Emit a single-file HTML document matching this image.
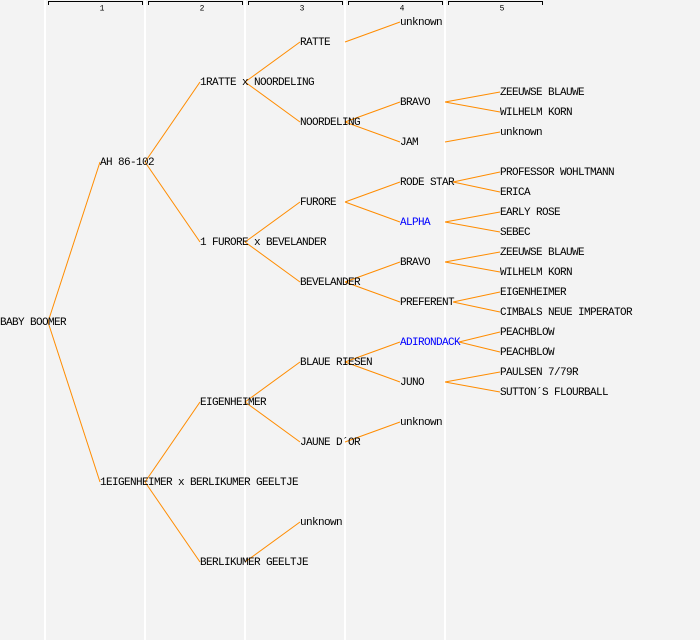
<!DOCTYPE html>
<html><head><style>
html,body{margin:0;padding:0;background:#f3f3f3;}
svg{display:block}
text{font-family:"Liberation Mono","DejaVu Sans Mono",monospace;font-size:11px;letter-spacing:-0.6px;fill:#000;dominant-baseline:central}
</style></head><body>
<svg width="700" height="640" viewBox="0 0 700 640" xmlns="http://www.w3.org/2000/svg">
<rect width="700" height="640" fill="#f3f3f3"/>
<g fill="#ffffff">
<rect x="44" y="0" width="2" height="640"/><rect x="144" y="0" width="2" height="640"/>
<rect x="244" y="0" width="2" height="640"/><rect x="344" y="0" width="2" height="640"/>
<rect x="444" y="0" width="2" height="640"/>
</g>
<g stroke="#000" stroke-width="1" fill="none">
<path d="M48.5,5V1.5H142.5V5"/><path d="M148.5,5V1.5H242.5V5"/><path d="M248.5,5V1.5H342.5V5"/>
<path d="M348.5,5V1.5H442.5V5"/><path d="M448.5,5V1.5H542.5V5"/>
</g>
<g text-anchor="middle">
<text x="102" y="9" style="font-size:8px;letter-spacing:0">1</text><text x="202" y="9" style="font-size:8px;letter-spacing:0">2</text><text x="302" y="9" style="font-size:8px;letter-spacing:0">3</text><text x="402" y="9" style="font-size:8px;letter-spacing:0">4</text><text x="502" y="9" style="font-size:8px;letter-spacing:0">5</text>
</g>
<g stroke="#ff8c00" stroke-width="1" fill="none">
<line x1="48" y1="322" x2="100" y2="162"/><line x1="48" y1="322" x2="100" y2="482"/>
<line x1="145" y1="162" x2="200" y2="82"/><line x1="145" y1="162" x2="200" y2="242"/>
<line x1="145" y1="482" x2="200" y2="402"/><line x1="145" y1="482" x2="200" y2="562"/>
<line x1="245" y1="82" x2="300" y2="42"/><line x1="245" y1="82" x2="300" y2="122"/>
<line x1="245" y1="242" x2="300" y2="202"/><line x1="245" y1="242" x2="300" y2="282"/>
<line x1="245" y1="402" x2="300" y2="362"/><line x1="245" y1="402" x2="300" y2="442"/>
<line x1="245" y1="562" x2="300" y2="522"/>
<line x1="345" y1="42" x2="400" y2="22"/>
<line x1="345" y1="122" x2="400" y2="102"/><line x1="345" y1="122" x2="400" y2="142"/>
<line x1="345" y1="202" x2="400" y2="182"/><line x1="345" y1="202" x2="400" y2="222"/>
<line x1="345" y1="282" x2="400" y2="262"/><line x1="345" y1="282" x2="400" y2="302"/>
<line x1="345" y1="362" x2="400" y2="342"/><line x1="345" y1="362" x2="400" y2="382"/>
<line x1="345" y1="442" x2="400" y2="422"/>
<line x1="445" y1="102" x2="500" y2="92"/><line x1="445" y1="102" x2="500" y2="112"/>
<line x1="445" y1="142" x2="500" y2="132"/>
<line x1="453" y1="182" x2="500" y2="172"/><line x1="453" y1="182" x2="500" y2="192"/>
<line x1="445" y1="222" x2="500" y2="212"/><line x1="445" y1="222" x2="500" y2="232"/>
<line x1="445" y1="262" x2="500" y2="252"/><line x1="445" y1="262" x2="500" y2="272"/>
<line x1="453" y1="302" x2="500" y2="292"/><line x1="453" y1="302" x2="500" y2="312"/>
<line x1="459" y1="342" x2="500" y2="332"/><line x1="459" y1="342" x2="500" y2="352"/>
<line x1="445" y1="382" x2="500" y2="372"/><line x1="445" y1="382" x2="500" y2="392"/>
</g>
<g>
<text x="0" y="323">BABY BOOMER</text>
<text x="100" y="163">AH 86-102</text>
<text x="100" y="483">1EIGENHEIMER x BERLIKUMER GEELTJE</text>
<text x="200" y="83">1RATTE x NOORDELING</text>
<text x="200" y="243">1 FURORE x BEVELANDER</text>
<text x="200" y="403">EIGENHEIMER</text>
<text x="200" y="563">BERLIKUMER GEELTJE</text>
<text x="300" y="43">RATTE</text>
<text x="300" y="123">NOORDELING</text>
<text x="300" y="203">FURORE</text>
<text x="300" y="283">BEVELANDER</text>
<text x="300" y="363">BLAUE RIESEN</text>
<text x="300" y="443">JAUNE D´OR</text>
<text x="300" y="523">unknown</text>
<text x="400" y="23">unknown</text>
<text x="400" y="103">BRAVO</text>
<text x="400" y="143">JAM</text>
<text x="400" y="183">RODE STAR</text>
<text x="400" y="223" style="fill:#0000ff">ALPHA</text>
<text x="400" y="263">BRAVO</text>
<text x="400" y="303">PREFERENT</text>
<text x="400" y="343" style="fill:#0000ff">ADIRONDACK</text>
<text x="400" y="383">JUNO</text>
<text x="400" y="423">unknown</text>
<text x="500" y="93">ZEEUWSE BLAUWE</text>
<text x="500" y="113">WILHELM KORN</text>
<text x="500" y="133">unknown</text>
<text x="500" y="173">PROFESSOR WOHLTMANN</text>
<text x="500" y="193">ERICA</text>
<text x="500" y="213">EARLY ROSE</text>
<text x="500" y="233">SEBEC</text>
<text x="500" y="253">ZEEUWSE BLAUWE</text>
<text x="500" y="273">WILHELM KORN</text>
<text x="500" y="293">EIGENHEIMER</text>
<text x="500" y="313">CIMBALS NEUE IMPERATOR</text>
<text x="500" y="333">PEACHBLOW</text>
<text x="500" y="353">PEACHBLOW</text>
<text x="500" y="373">PAULSEN 7/79R</text>
<text x="500" y="393">SUTTON´S FLOURBALL</text>
</g>
</svg>
</body></html>
